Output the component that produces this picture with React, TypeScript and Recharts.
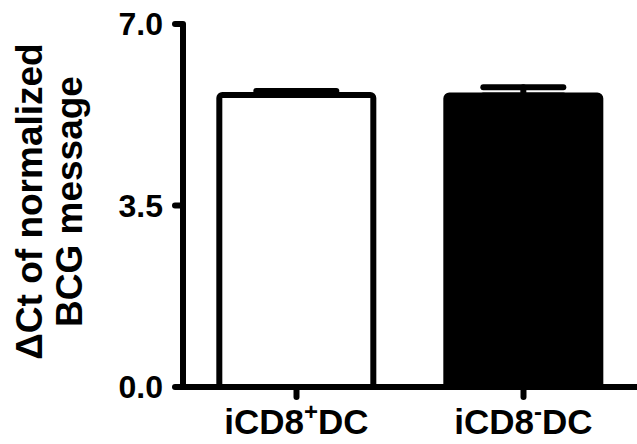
import React from 'react';
import { BarChart, Bar, XAxis, YAxis, ErrorBar, Cell } from 'recharts';

const categories = ['iCD8+DC', 'iCD8-DC'];
const labelMain = ['iCD8', 'iCD8'];
const labelSup = ['+', '-'];
const meanValues = [5.63, 5.62];
const semValues = [0.08, 0.16];
const barFills = ['#ffffff', '#000000'];
const yTicks = [0, 3.5, 7];
const yTitle = ['ΔCt of normalized', 'BCG message'];

const data = categories.map((name, i) => ({
  name,
  value: meanValues[i],
  err: [0, semValues[i]],
}));

const FONT = '"Liberation Sans", Arial, sans-serif';

// category label with the +/- as superscript
const XTick = (props: any) => {
  const { x, y, index } = props;
  return (
    <text x={x} y={y} dy={35} textAnchor="middle" fontFamily={FONT} fontWeight="bold" fontSize={35} fill="#000">
      {labelMain[index]}
      <tspan fontSize={24} dy={-14}>{labelSup[index]}</tspan>
      <tspan dy={14}>DC</tspan>
    </text>
  );
};

const YLabel = (props: any) => {
  const vb = props.viewBox || {};
  const cy = vb.y + vb.height / 2 - 4;
  const xs = [42, 82];
  return (
    <g>
      {yTitle.map((line, i) => (
        <text
          key={line}
          transform={`rotate(-90, ${xs[i]}, ${cy})`}
          x={xs[i]}
          y={cy}
          textAnchor="middle"
          fontFamily={FONT}
          fontWeight="bold"
          fontSize={37}
          fill="#000"
        >
          {line}
        </text>
      ))}
    </g>
  );
};

export default function App() {
  return (
    <div style={{ position: 'absolute', left: 0, top: 0, background: '#fff' }}>
      <BarChart
        width={637}
        height={444}
        data={data}
        margin={{ top: 24, right: 0, left: 0, bottom: 0 }}
        barCategoryGap="16%"
      >
        <XAxis
          dataKey="name"
          height={57}
          axisLine={{ stroke: '#000', strokeWidth: 6 }}
          tickLine={{ stroke: '#000', strokeWidth: 6, strokeLinecap: 'round' }}
          tickSize={10}
          tick={<XTick />}
          interval={0}
        />
        <YAxis
          width={183}
          domain={[0, 7]}
          ticks={yTicks}
          tickFormatter={(v: number) => v.toFixed(1)}
          axisLine={{ stroke: '#000', strokeWidth: 6 }}
          tickLine={{ stroke: '#000', strokeWidth: 6, strokeLinecap: 'round' }}
          tickSize={8}
          tickMargin={12}
          tick={{ fill: '#000', fontSize: 32, fontWeight: 'bold', fontFamily: FONT }}
          label={<YLabel />}
        />
        <Bar dataKey="value" isAnimationActive={false} stroke="#000" strokeWidth={6} radius={3}>
          {data.map((d, i) => (
            <Cell key={d.name} fill={barFills[i]} />
          ))}
          <ErrorBar
            dataKey="err"
            width={40}
            stroke="#000"
            strokeWidth={6}
            strokeLinecap="round"
            isAnimationActive={false}
          />
        </Bar>
      </BarChart>
    </div>
  );
}
